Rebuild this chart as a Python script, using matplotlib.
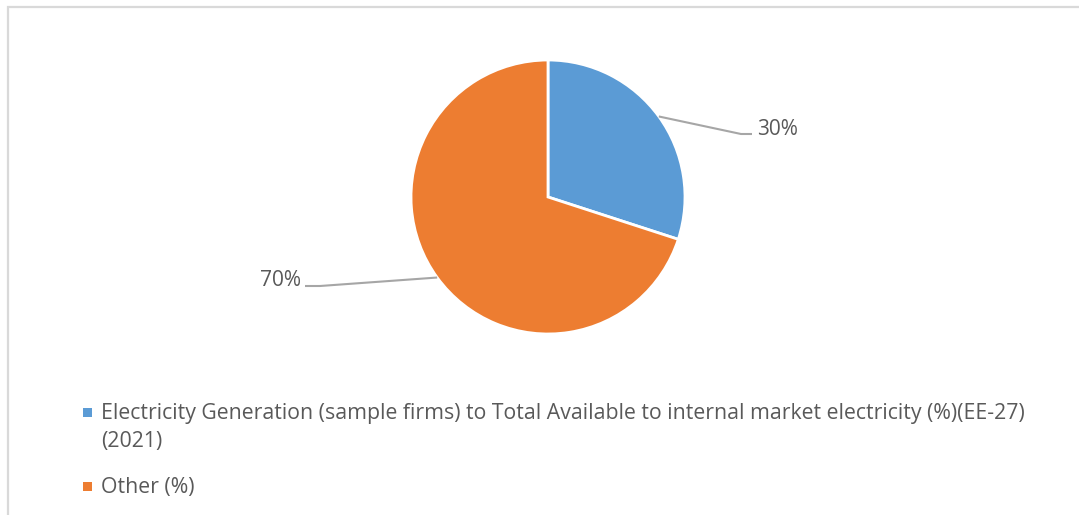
import numpy as np
import matplotlib
matplotlib.use("Agg")
import matplotlib.pyplot as plt
from matplotlib.patches import Rectangle

# Share of electricity generation, EE-27, 2021
categories = [
    "Electricity Generation (sample firms) to Total Available to internal market electricity (%)(EE-27)\n(2021)",
    "Other (%)",
]
values = [30, 70]
colors = ["#5B9BD5", "#ED7D31"]

plt.rcParams["font.family"] = ["Open Sans", "DejaVu Sans"]
TEXT = "#595959"
LEADER = "#A6A6A6"

W, H = 1079, 515
fig = plt.figure(figsize=(W / 100, H / 100), dpi=100)
fig.patch.set_facecolor("white")

# pixel-space axes (y measured upward)
ax = fig.add_axes([0, 0, 1, 1])
cx, cy, r = 548, H - 197, 137
wedges, _ = ax.pie(values, colors=colors, startangle=90, counterclock=False,
                   radius=r, center=(cx, cy),
                   wedgeprops=dict(edgecolor="white", linewidth=2))
ax.set_xlim(0, W)
ax.set_ylim(0, H)
ax.set_aspect("auto")
ax.axis("off")

# chart-area border (left and top edges)
ax.plot([7.5, 7.5, W + 5], [-5, H - 6.5, H - 6.5], color="#D9D9D9", lw=1.6,
        solid_joinstyle="miter", clip_on=False)

# percentage labels with elbow leader lines
total = sum(values)
label_geo = [
    dict(elbow=(741, H - 134), end=(752, H - 134), text=(757, H - 135), ha="left"),
    dict(elbow=(320, H - 286), end=(305, H - 286), text=(301, H - 286), ha="right"),
]
for w, v, geo in zip(wedges, values, label_geo):
    mid = np.deg2rad((w.theta1 + w.theta2) / 2)
    ex, ey = cx + r * np.cos(mid), cy + r * np.sin(mid)
    xs = [ex, geo["elbow"][0], geo["end"][0]]
    ys = [ey, geo["elbow"][1], geo["end"][1]]
    ax.plot(xs, ys, color=LEADER, lw=1.5, solid_capstyle="butt")
    ax.text(geo["text"][0], geo["text"][1], f"{v / total * 100:.0f}%",
            ha=geo["ha"], va="baseline", fontsize=15, color=TEXT)

# legend: one square and one (possibly wrapped) label per category
legend_baselines = [H - 419, H - 493]
for cat, col, yb in zip(categories, colors, legend_baselines):
    ax.add_patch(Rectangle((83, yb + 2), 9, 9, facecolor=col, edgecolor="none"))
    for k, line in enumerate(cat.split("\n")):
        ax.text(101, yb - 28 * k, line, ha="left", va="baseline",
                fontsize=15.3, color=TEXT)

fig.savefig("out.png", dpi=100)
